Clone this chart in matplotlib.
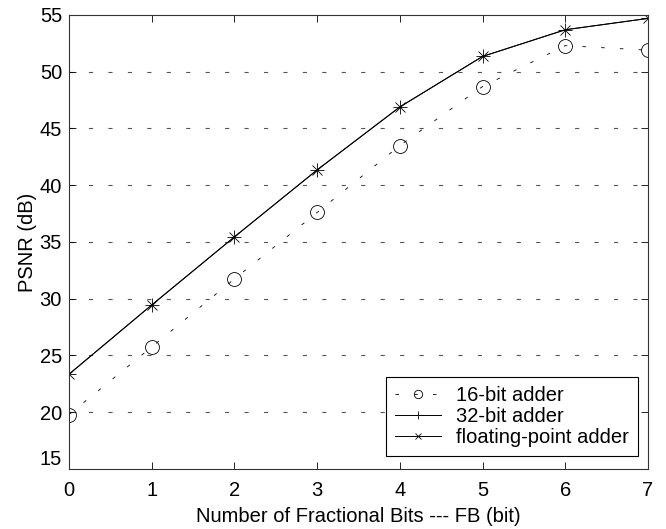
import matplotlib
matplotlib.use("Agg")
import matplotlib.pyplot as plt
import matplotlib.transforms as mtransforms

plt.rcParams['font.family'] = ['Liberation Sans', 'DejaVu Sans']
plt.rcParams['lines.scale_dashes'] = False

fb = [0, 1, 2, 3, 4, 5, 6, 7]
psnr_16 = [19.8, 25.75, 31.75, 37.6, 43.5, 48.7, 52.3, 51.9]
psnr_32 = [23.35, 29.45, 35.45, 41.35, 46.9, 51.35, 53.7, 54.7]
psnr_fp = [23.35, 29.45, 35.45, 41.35, 46.9, 51.35, 53.7, 54.7]
yticks = [15, 20, 25, 30, 35, 40, 45, 50, 55]

FS = 14.5

fig = plt.figure(figsize=(6.66, 5.29), dpi=100)
ax = fig.add_axes([69/666, 1-469/529, (648-69)/666, (469-15)/529])

for y in yticks[1:-1]:
    ax.axhline(y, color='#555555', lw=0.8, linestyle=(0, (3, 11)), zorder=0)

ax.plot(fb, psnr_16, color='black', lw=0.6, linestyle=(0, (2.5, 11)),
        marker='o', markersize=10, markerfacecolor='none', markeredgewidth=0.6,
        label='16-bit adder')
ax.plot(fb, psnr_32, color='black', lw=0.7, marker='+', markersize=10,
        markeredgewidth=0.6, label='32-bit adder')
ax.plot(fb, psnr_fp, color='black', lw=0.7, marker='x', markersize=7,
        markeredgewidth=0.6, label='floating-point adder')

ax.set_xlim(0, 7)
ax.set_ylim(15, 55)
ax.set_xticks(fb)
ax.set_yticks(yticks)
ax.tick_params(direction='in', top=True, right=True, length=5, width=0.6,
               labelsize=FS)
ax.tick_params(axis='x', pad=9)
ax.tick_params(axis='y', pad=5)
for s in ax.spines.values():
    s.set_linewidth(0.8)
    s.set_color('#333333')

# raise the bottom y tick label as in the reference
lab = ax.get_yticklabels()[0]
lab.set_transform(lab.get_transform() +
                  mtransforms.ScaledTranslation(0, 8/72, fig.dpi_scale_trans))

ax.set_xlabel('Number of Fractional Bits --- FB (bit)', fontsize=FS, labelpad=5)
ax.set_ylabel('PSNR (dB)', fontsize=FS, labelpad=2)

leg = ax.legend(loc='lower right', bbox_to_anchor=(0.983, 0.029),
                borderaxespad=0, fancybox=False, fontsize=FS,
                handlelength=2.3, handletextpad=0.75, borderpad=0.45,
                labelspacing=0.1, framealpha=1, markerscale=0.6)
leg.get_frame().set_edgecolor('black')
leg.get_frame().set_linewidth(0.8)

fig.savefig('out.png', dpi=100)
